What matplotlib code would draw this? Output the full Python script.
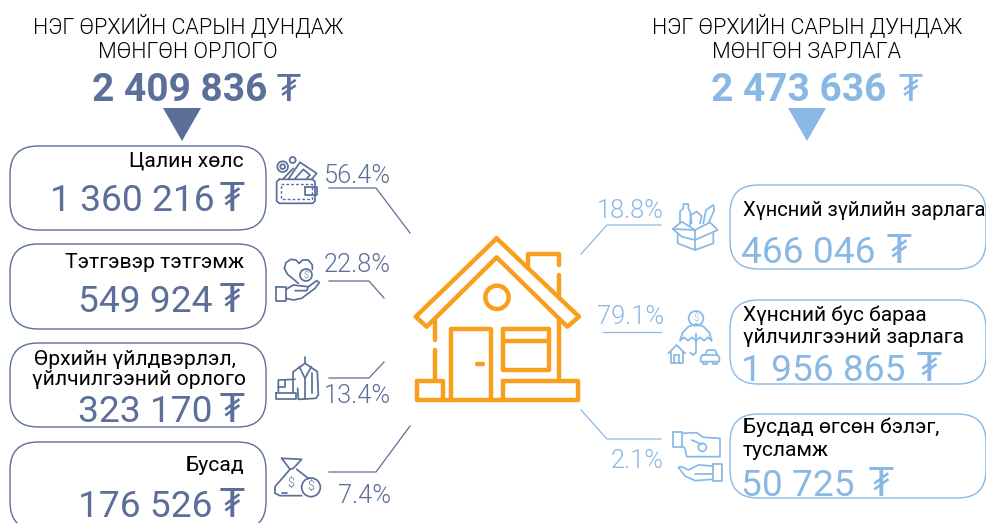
import numpy as np
import matplotlib
matplotlib.use('Agg')
import matplotlib.pyplot as plt
from matplotlib.patches import FancyBboxPatch, Circle, Polygon

DARK = '#5b6f99'
LIGHT = '#8ab8e4'
ORANGE = '#f99f1e'
FONT = ['Roboto', 'DejaVu Sans']

left_title = ['НЭГ ӨРХИЙН САРЫН ДУНДАЖ', 'МӨНГӨН ОРЛОГО']
right_title = ['НЭГ ӨРХИЙН САРЫН ДУНДАЖ', 'МӨНГӨН ЗАРЛАГА']
total_income = '2 409 836'
total_spend = '2 473 636'

income_names = ['Цалин хөлс', 'Тэтгэвэр тэтгэмж', 'Өрхийн үйлдвэрлэл,\nүйлчилгээний орлого', 'Бусад']
income_values = ['1 360 216', '549 924', '323 170', '176 526']
income_shares = ['56.4%', '22.8%', '13.4%', '7.4%']

spend_names = ['Хүнсний зүйлийн зарлага', 'Хүнсний бус бараа\nүйлчилгээний зарлага', 'Бусдад өгсөн бэлэг,\nтусламж']
spend_values = ['466 046', '1 956 865', '50 725']
spend_shares = ['18.8%', '79.1%', '2.1%']

fig = plt.figure(figsize=(9.87, 5.23), dpi=100)
ax = fig.add_axes([0, 0, 1, 1])
ax.set_xlim(0, 987)
ax.set_ylim(523, 0)
ax.axis('off')


def txt(x, y, s, size, color='black', ha='left', va='baseline', weight=300):
    ax.text(x, y, s, fontsize=size, color=color, ha=ha, va=va, fontweight=weight, family=FONT)


def tenge(x, y, color, size=28):
    ax.text(x, y, '₮', fontsize=size, color=color, ha='left', va='baseline', fontweight=400, family=FONT)


def box(x0, y0, x1, y1, color):
    r = 28
    ax.add_patch(FancyBboxPatch((x0 + r, y0 + r), x1 - x0 - 2 * r, y1 - y0 - 2 * r,
                                boxstyle='round,pad=%d,rounding_size=%d' % (r, r),
                                fc='white', ec=color, lw=1.0, zorder=1))


def line(pts, ox, oy, color, lw=1.25, closed=False, ls='-'):
    p = np.array(pts, dtype=float) / 3 + [ox, oy]
    if closed:
        p = np.vstack([p, p[:1]])
    ax.plot(p[:, 0], p[:, 1], color=color, lw=lw, ls=ls, solid_capstyle='round',
            solid_joinstyle='round', zorder=3)


def rect(x0, y0, x1, y1, ox, oy, color, lw=1.25, ls='-'):
    line([(x0, y0), (x1, y0), (x1, y1), (x0, y1)], ox, oy, color, lw, True, ls)


def circ(x, y, r, ox, oy, color, lw=1.25):
    ax.add_patch(Circle((x / 3 + ox, y / 3 + oy), r / 3, fc='none', ec=color, lw=lw, zorder=3))


def leader(pts, color):
    p = np.array(pts, dtype=float)
    ax.plot(p[:, 0], p[:, 1], color=color, lw=0.9, zorder=2)


# headings
for i, s in enumerate(left_title):
    txt(188, 33 + i * 25, s, 15.5, ha='center')
for i, s in enumerate(right_title):
    txt(807, 33 + i * 25, s, 15.5, ha='center')
txt(92, 101, total_income, 28, DARK, weight='bold')
txt(711, 101, total_spend, 28, LIGHT, weight='bold')
tenge(277, 101, DARK, 27)
tenge(899, 101, LIGHT, 27)
ax.add_patch(Polygon([(163, 108), (201, 108), (182, 141)], fc=DARK, ec='none'))
ax.add_patch(Polygon([(788, 108), (826, 108), (807, 141)], fc=LIGHT, ec='none'))

# left boxes
left_boxes = [(146, 230), (244, 329), (343, 427), (442, 530)]
name_base = [167, 268, 0, 471]
val_base = [211, 312, 422, 517]
for i in range(4):
    box(10, left_boxes[i][0], 266, left_boxes[i][1], DARK)
    if i == 2:
        txt(236, 365, income_names[i].split('\n')[0], 15.2, ha='right', weight=400)
        txt(246, 385, income_names[i].split('\n')[1], 15.2, ha='right', weight=400)
    else:
        txt(244, name_base[i], income_names[i], 15.2, ha='right', weight=400)
    txt(215 if i == 0 else 212, val_base[i], income_values[i], 26.7, DARK, ha='right', weight=400)
    tenge(220, val_base[i], DARK)

# right boxes
right_boxes = [(185, 269), (300, 384), (414, 498)]
val_base_r = [263, 381, 496]
tenge_x = [887, 917, 869]
for i in range(3):
    box(730, right_boxes[i][0], 986, right_boxes[i][1], LIGHT)
    txt(741, val_base_r[i], spend_values[i], 26.7, LIGHT, weight=400)
    tenge(tenge_x[i], val_base_r[i], LIGHT)
txt(743, 216, spend_names[0], 14.5, weight=400)
txt(743, 321, spend_names[1].split('\n')[0], 15.1, weight=400)
txt(743, 343, spend_names[1].split('\n')[1], 15.1, weight=400)
txt(743, 433, spend_names[2].split('\n')[0], 15.1, weight=400)
txt(743, 456, spend_names[2].split('\n')[1], 15.1, weight=400)

# shares and leader lines
share_y = [183, 272, 403, 503]
for s, y in zip(income_shares, share_y):
    txt(391, y, s, 18.3, DARK, ha='right')
leader([(329, 188), (376, 188), (410, 233)], DARK)
leader([(329, 281), (369, 281), (384, 298)], DARK)
leader([(329, 378), (369, 378), (384, 362)], DARK)
leader([(329, 472), (376, 472), (410, 426)], DARK)

share_y_r = [218, 324, 468]
for s, y in zip(spend_shares, share_y_r):
    txt(664, y, s, 18.3, LIGHT, ha='right')
leader([(661, 225), (607, 225), (581, 254)], LIGHT)
leader([(661, 332), (603, 332)], LIGHT)
leader([(661, 439), (607, 439), (581, 410)], LIGHT)

# house
hx, hy, hw = 400, 225, 3.2
line([(290, 40), (47, 275), (80, 305), (290, 97), (502, 305), (537, 275)], hx, hy, ORANGE, hw, True)
line([(106, 285), (106, 345)], hx, hy, ORANGE, hw)
line([(106, 375), (106, 460)], hx, hy, ORANGE, hw)
line([(477, 285), (477, 460)], hx, hy, ORANGE, hw)
line([(385, 125), (385, 87), (478, 87), (478, 120)], hx, hy, ORANGE, hw)
line([(478, 150), (478, 220)], hx, hy, ORANGE, hw)
circ(291, 217, 35, hx, hy, ORANGE, hw)
line([(152, 525), (152, 313), (273, 313), (273, 525)], hx, hy, ORANGE, hw)
line([(232, 418), (250, 418)], hx, hy, ORANGE, hw)
rect(309, 313, 448, 435, hx, hy, ORANGE, hw)
line([(309, 349), (448, 349)], hx, hy, ORANGE, hw)
rect(50, 467, 128, 525, hx, hy, ORANGE, hw)
rect(309, 467, 533, 525, hx, hy, ORANGE, hw)
line([(128, 525), (309, 525)], hx, hy, ORANGE, hw)

# wallet
ox, oy = 0, 130
line([(838, 148), (938, 148), (945, 155), (945, 213), (938, 220), (838, 220), (830, 213), (830, 155)], ox, oy, DARK, closed=True)
rect(842, 162, 935, 208, ox, oy, DARK, lw=1.0, ls=(0, (2, 1.5)))
rect(915, 172, 950, 195, ox, oy, DARK)
circ(848, 110, 16, ox, oy, DARK)
circ(848, 110, 7, ox, oy, DARK)
circ(878, 90, 9, ox, oy, DARK)
line([(850, 146), (880, 115)], ox, oy, DARK)
line([(866, 146), (900, 97), (950, 130), (935, 148)], ox, oy, DARK)
line([(885, 146), (910, 118), (930, 135), (920, 146)], ox, oy, DARK)

# heart in hand
line([(897, 400), (888, 390), (872, 388), (858, 398), (853, 415), (862, 432), (895, 460)], ox, oy, DARK)
line([(897, 400), (908, 390), (925, 390), (937, 405), (937, 418)], ox, oy, DARK)
circ(918, 435, 18, ox, oy, DARK)
txt(918 / 3, 435 / 3 + oy, '$', 6.5, DARK, ha='center', va='center')
rect(828, 470, 858, 512, ox, oy, DARK)
line([(858, 478), (880, 465), (905, 468), (925, 470), (950, 452), (958, 458), (945, 475), (905, 505), (880, 510), (858, 505)], ox, oy, DARK)
line([(885, 482), (920, 482), (925, 470)], ox, oy, DARK)

# sewing machine and jacket
ox, oy = 0, 330
line([(885, 148), (835, 150), (835, 185)], ox, oy, DARK)
line([(855, 150), (855, 172), (835, 172)], ox, oy, DARK)
line([(880, 148), (880, 190)], ox, oy, DARK)
rect(828, 190, 888, 208, ox, oy, DARK)
line([(880, 125), (915, 100), (952, 125), (955, 195), (948, 205), (895, 208), (893, 175)], ox, oy, DARK)
line([(880, 125), (880, 145)], ox, oy, DARK)
line([(915, 82), (915, 100)], ox, oy, DARK)
line([(898, 110), (915, 145), (934, 110)], ox, oy, DARK)
line([(915, 145), (915, 208)], ox, oy, DARK)
line([(935, 130), (935, 190)], ox, oy, DARK)

# money bag
line([(845, 385), (905, 388), (880, 415), (870, 418), (845, 385)], ox, oy, DARK)
line([(870, 418), (825, 470), (825, 490), (840, 497), (905, 497)], ox, oy, DARK)
line([(890, 418), (925, 445)], ox, oy, DARK)
circ(933, 472, 28, ox, oy, DARK)
txt(933 / 3, 472 / 3 + oy, '$', 9, DARK, ha='center', va='center')
txt(873 / 3, 463 / 3 + oy, '$', 9, DARK, ha='center', va='center')
line([(845, 490), (862, 490)], ox, oy, DARK)

# grocery box
ox, oy = 570, 180
line([(375, 150), (308, 147), (335, 125), (375, 150), (420, 127), (443, 150), (375, 180), (335, 170), (308, 147)], ox, oy, LIGHT)
line([(323, 160), (323, 190), (375, 210), (430, 190), (430, 160)], ox, oy, LIGHT)
line([(375, 150), (375, 210)], ox, oy, LIGHT)
line([(330, 130), (330, 95), (340, 85), (340, 72), (355, 72), (355, 85), (362, 100), (360, 135)], ox, oy, LIGHT)
line([(365, 130), (362, 105), (380, 95), (395, 108), (390, 130)], ox, oy, LIGHT)
line([(400, 130), (408, 90), (430, 75), (433, 90), (415, 130)], ox, oy, LIGHT)

# umbrella, house and car, this crop is the 70x70 one
ox, oy = 660, 300
circ(108, 55, 22, ox, oy, LIGHT)
txt(108 / 3 + ox, 55 / 3 + oy, '$', 7, LIGHT, ha='center', va='center')
line([(60, 122), (68, 98), (85, 80), (108, 72), (131, 80), (148, 98), (155, 122)], ox, oy, LIGHT)
line([(60, 122), (72, 112), (84, 122), (96, 112), (108, 122), (120, 112), (132, 122), (144, 112), (155, 122)], ox, oy, LIGHT)
line([(108, 100), (108, 158), (100, 165), (90, 158)], ox, oy, LIGHT)
line([(25, 160), (50, 135), (75, 160)], ox, oy, LIGHT)
line([(32, 155), (32, 190), (68, 190), (68, 155)], ox, oy, LIGHT)
line([(42, 190), (42, 165), (58, 165), (58, 190)], ox, oy, LIGHT)
line([(135, 165), (142, 150), (165, 150), (172, 165)], ox, oy, LIGHT)
line([(128, 165), (172, 165), (178, 172), (178, 185), (122, 185), (122, 172)], ox, oy, LIGHT, closed=True)
line([(130, 185), (130, 192), (140, 192), (140, 185)], ox, oy, LIGHT)
line([(160, 185), (160, 192), (170, 192), (170, 185)], ox, oy, LIGHT)

# hands and money
ox, oy = 570, 350
rect(308, 245, 335, 292, ox, oy, LIGHT)
line([(335, 250), (380, 248), (400, 262), (450, 265), (450, 320), (350, 320), (345, 295), (335, 288)], ox, oy, LIGHT)
circ(397, 292, 12, ox, oy, LIGHT)
line([(365, 270), (395, 283)], ox, oy, LIGHT)
rect(428, 343, 455, 392, ox, oy, LIGHT)
line([(428, 348), (385, 345), (355, 360), (335, 350), (325, 352), (345, 378), (375, 392), (428, 388)], ox, oy, LIGHT)
line([(375, 372), (428, 372)], ox, oy, LIGHT)

fig.savefig('out.png', dpi=100)
